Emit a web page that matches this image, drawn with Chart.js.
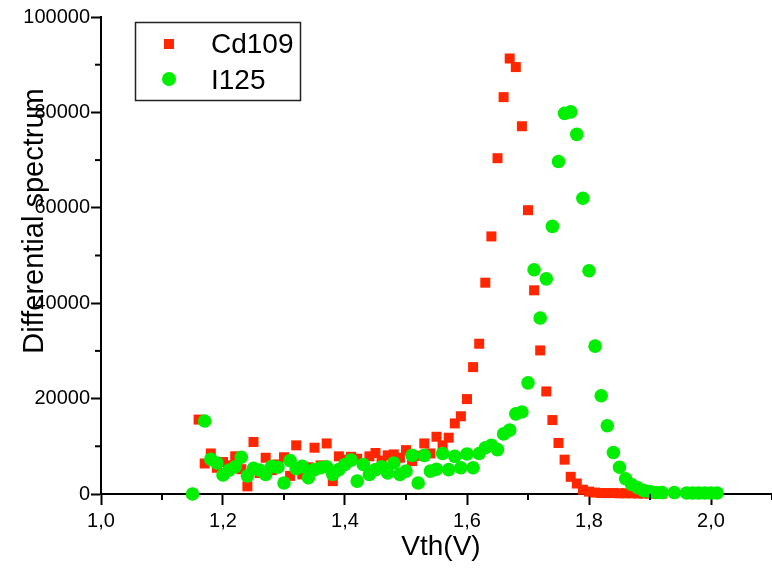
<!DOCTYPE html>
<html>
<head>
<meta charset="utf-8">
<script src="https://cdn.jsdelivr.net/npm/chart.js@4"></script>
<style>
  html, body { margin: 0; padding: 0; background: #fff; }
  canvas { display: block; }
</style>
</head>
<body>
<canvas id="spectrumChart" width="772" height="574"></canvas>
<script>
// Cd109 source: threshold voltage (V) and differential counts
const cd109Vth = [
  1.16, 1.17, 1.18, 1.19, 1.20, 1.21, 1.22, 1.23, 1.24, 1.25, 1.26, 1.27, 1.28, 1.29,
  1.30, 1.31, 1.32, 1.33, 1.34, 1.35, 1.36, 1.37, 1.38, 1.39, 1.40, 1.41, 1.42, 1.43,
  1.44, 1.45, 1.46, 1.47, 1.48, 1.49, 1.50, 1.51, 1.52, 1.53, 1.54, 1.55, 1.56, 1.57,
  1.58, 1.59, 1.60, 1.61, 1.62, 1.63, 1.64, 1.65, 1.66, 1.67, 1.68, 1.69, 1.70, 1.71,
  1.72, 1.73, 1.74, 1.75, 1.76, 1.77, 1.78, 1.79, 1.80, 1.81, 1.82, 1.83, 1.84, 1.85,
  1.86, 1.87, 1.88, 1.89, 1.90, 1.91, 1.92
];
const cd109Counts = [
  15600, 6400, 8500, 5500, 6700, 6000, 7900, 5200, 1600, 10900, 4400, 7600, 5000, 6200,
  7700, 3800, 10200, 4100, 5600, 9700, 6000, 10600, 2700, 7900, 7200, 7800, 7400, 6500,
  7900, 8600, 7000, 8100, 8300, 7600, 9200, 6900, 8000, 10600, 8500, 12000, 10200, 11800,
  14800, 16300, 19900, 26600, 31500, 44300, 54000, 70400, 83200, 91300, 89500, 77100, 59500, 42700,
  30100, 21500, 15500, 10700, 7200, 3600, 2200, 900, 500, 300, 200, 200, 200, 150,
  150, 150, 100, 100, 100, 100, 100
];

// I125 source
const i125Vth = [
  1.15, 1.17, 1.18, 1.19, 1.20, 1.21, 1.22, 1.23, 1.24, 1.25, 1.26, 1.27, 1.28, 1.29,
  1.30, 1.31, 1.32, 1.33, 1.34, 1.35, 1.36, 1.37, 1.38, 1.39, 1.40, 1.41, 1.42, 1.43,
  1.44, 1.45, 1.46, 1.47, 1.48, 1.49, 1.50, 1.51, 1.52, 1.53, 1.54, 1.55, 1.56, 1.57,
  1.58, 1.59, 1.60, 1.61, 1.62, 1.63, 1.64, 1.65, 1.66, 1.67, 1.68, 1.69, 1.70, 1.71,
  1.72, 1.73, 1.74, 1.75, 1.76, 1.77, 1.78, 1.79, 1.80, 1.81, 1.82, 1.83, 1.84, 1.85,
  1.86, 1.87, 1.88, 1.89, 1.90, 1.91, 1.92, 1.94, 1.96, 1.97, 1.98, 1.99, 2.00, 2.01
];
const i125Counts = [
  0, 15300, 7300, 6500, 4000, 5000, 5700, 7700, 3800, 5400, 5000, 4100, 5800, 5600,
  2300, 7000, 5300, 5800, 3400, 5100, 5500, 5700, 4100, 5100, 6200, 7100, 2700, 6200,
  4100, 5100, 5700, 4400, 6500, 4100, 4800, 8100, 2300, 8100, 4800, 5200, 8500, 5100,
  7900, 5500, 8400, 5500, 8500, 9700, 10200, 9300, 12600, 13400, 16800, 17200, 23300, 47000,
  36900, 45100, 56100, 69700, 79800, 80100, 75400, 62000, 46800, 31000, 20600, 14300, 8700, 5600,
  3200, 2000, 1300, 700, 500, 300, 300, 300, 200, 200, 200, 200, 200, 200
];

const seriesNames = ['Cd109', 'I125'];
const seriesColors = ['rgb(255, 38, 0)', 'rgb(0, 238, 0)'];

const FONT = '"Liberation Sans", Arial, sans-serif';

function toPoints(xs, ys) {
  return xs.map((x, i) => ({ x: x, y: ys[i] }));
}

function isMajorX(v) {
  return Math.round(v * 10) % 2 === 0;
}

function isMajorY(v) {
  return Math.round(v) % 20000 === 0;
}

// minor ticks are shorter than the ones chart.js draws
const minorTicks = {
  id: 'minorTicks',
  afterDraw(chart) {
    const ctx = chart.ctx;
    const xs = chart.scales.x;
    const ys = chart.scales.y;
    const area = chart.chartArea;
    ctx.save();
    ctx.strokeStyle = '#000';
    ctx.lineWidth = 2;
    xs.ticks.forEach(t => {
      if (isMajorX(t.value)) return;
      const px = xs.getPixelForValue(t.value);
      ctx.beginPath();
      ctx.moveTo(px, area.bottom);
      ctx.lineTo(px, area.bottom + 6);
      ctx.stroke();
    });
    ys.ticks.forEach(t => {
      if (isMajorY(t.value)) return;
      const py = ys.getPixelForValue(t.value);
      ctx.beginPath();
      ctx.moveTo(area.left, py);
      ctx.lineTo(area.left - 6, py);
      ctx.stroke();
    });
    ctx.restore();
  }
};

// axis titles and the boxed legend
const annotations = {
  id: 'annotations',
  afterDraw(chart) {
    const ctx = chart.ctx;
    ctx.save();
    ctx.fillStyle = '#000';

    ctx.font = '28px ' + FONT;
    ctx.textAlign = 'center';
    ctx.textBaseline = 'alphabetic';
    ctx.fillText('Vth(V)', 441, 555);

    ctx.save();
    ctx.translate(43, 221);
    ctx.rotate(-Math.PI / 2);
    ctx.font = '29px ' + FONT;
    ctx.fillText('Differential spectrum', 0, 0);
    ctx.restore();

    // legend box
    ctx.strokeStyle = '#222';
    ctx.lineWidth = 1.5;
    ctx.strokeRect(135.5, 22.5, 165, 78);

    ctx.fillStyle = seriesColors[0];
    ctx.fillRect(164, 39, 10, 10);
    ctx.fillStyle = seriesColors[1];
    ctx.beginPath();
    ctx.arc(169, 79, 7, 0, Math.PI * 2);
    ctx.fill();

    ctx.fillStyle = '#000';
    ctx.font = '28px ' + FONT;
    ctx.textAlign = 'left';
    ctx.fillText(seriesNames[0], 211, 53);
    ctx.fillText(seriesNames[1], 211, 89);
    ctx.restore();
  }
};

const ctx = document.getElementById('spectrumChart');

new Chart(ctx, {
  type: 'scatter',
  data: {
    datasets: [
      {
        label: seriesNames[0],
        data: toPoints(cd109Vth, cd109Counts),
        pointStyle: 'rect',
        pointRadius: 7.07,
        pointBorderWidth: 0,
        backgroundColor: seriesColors[0],
        borderColor: seriesColors[0],
        clip: false,
        order: 1
      },
      {
        label: seriesNames[1],
        data: toPoints(i125Vth, i125Counts),
        pointStyle: 'circle',
        pointRadius: 6.8,
        pointBorderWidth: 0,
        backgroundColor: seriesColors[1],
        borderColor: seriesColors[1],
        clip: false,
        order: 0
      }
    ]
  },
  options: {
    responsive: false,
    animation: false,
    devicePixelRatio: 1,
    layout: { autoPadding: false, padding: { left: 0, top: 17, right: 0, bottom: 0 } },
    plugins: {
      legend: { display: false },
      tooltip: { enabled: false }
    },
    scales: {
      x: {
        type: 'linear',
        position: 'bottom',
        min: 1.0,
        max: 2.1,
        afterFit: (scale) => {
          scale.height = 80;
          scale.paddingLeft = 0;
          scale.paddingRight = 0;
        },
        border: { color: '#000', width: 2 },
        grid: {
          drawOnChartArea: false,
          drawTicks: true,
          tickLength: 11,
          tickWidth: 2,
          tickColor: (c) => (c.tick && isMajorX(c.tick.value)) ? '#000' : 'rgba(0,0,0,0)'
        },
        ticks: {
          stepSize: 0.1,
          autoSkip: false,
          maxRotation: 0,
          padding: 4,
          color: '#000',
          font: { family: FONT, size: 20 },
          callback: (v) => isMajorX(v) ? Number(v).toFixed(1).replace('.', ',') : ''
        }
      },
      y: {
        type: 'linear',
        position: 'left',
        min: 0,
        max: 100000,
        afterFit: (scale) => {
          scale.width = 101;
          scale.paddingTop = 0;
          scale.paddingBottom = 0;
        },
        border: { color: '#000', width: 2 },
        grid: {
          drawOnChartArea: false,
          drawTicks: true,
          tickLength: 10,
          tickWidth: 2,
          tickColor: (c) => (c.tick && isMajorY(c.tick.value)) ? '#000' : 'rgba(0,0,0,0)'
        },
        ticks: {
          stepSize: 10000,
          autoSkip: false,
          padding: 1,
          color: '#000',
          font: { family: FONT, size: 20 },
          callback: (v) => isMajorY(v) ? String(v) : ''
        }
      }
    }
  },
  plugins: [minorTicks, annotations]
});
</script>
</body>
</html>
